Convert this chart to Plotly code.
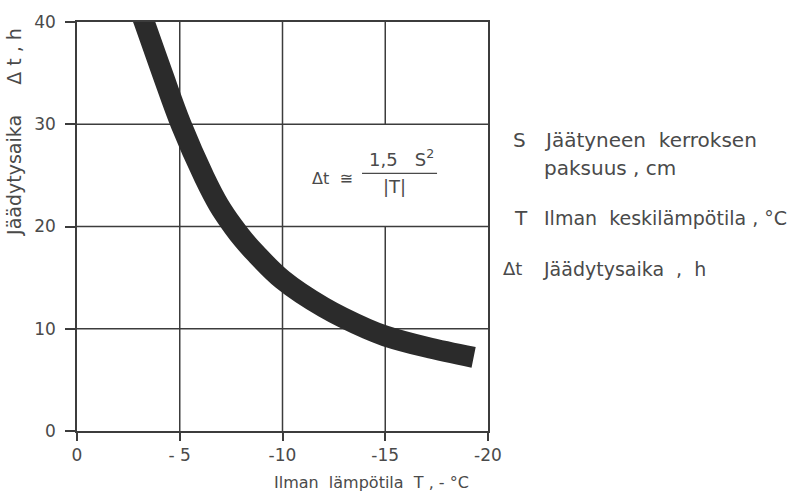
import plotly.graph_objects as go

# Curve: freezing time (h) vs air temperature (°C)
temps = [-3.0, -3.27, -4.15, -5.06, -6.2, -6.9, -7.6, -8.1, -8.7, -10.0, -12.0, -14.1, -15.0, -17.0, -19.3]
times = [41.5, 40.0, 35.0, 30.0, 24.8, 22.1, 20.0, 18.7, 17.35, 14.8, 12.1, 10.0, 9.3, 8.2, 7.2]

x_ticks = [0, -5, -10, -15, -20]
x_ticktext = ["0", "- 5", "-10", "-15", "-20"]
y_ticks = [0, 10, 20, 30, 40]
y_ticktext = ["0", "10", "20", "30", "40"]

GRID = "#3c3c3c"
TXT = "#4a4a4a"
FONT = "DejaVu Sans"

fig = go.Figure()
fig.add_trace(go.Scatter(
    x=temps, y=times, mode="lines",
    line=dict(color="#2b2b2b", width=21, shape="spline", smoothing=1.0),
    hoverinfo="skip", showlegend=False,
))

shapes = []
for xv in x_ticks[1:-1]:
    segs = [(0, 20), (30, 40)] if xv == -15 else [(0, 40)]
    for y0, y1 in segs:
        shapes.append(dict(type="line", xref="x", yref="y", x0=xv, x1=xv, y0=y0, y1=y1,
                           line=dict(color=GRID, width=1.5), layer="below"))
for yv in y_ticks[1:-1]:
    shapes.append(dict(type="line", xref="x", yref="y", x0=0, x1=-20, y0=yv, y1=yv,
                       line=dict(color=GRID, width=1.5), layer="below"))
# fraction bar of the formula
shapes.append(dict(type="line", xref="x", yref="y", x0=-13.87, x1=-17.52, y0=25.2, y1=25.2,
                   line=dict(color=TXT, width=1.2)))

def ann(x, y, text, size, xref="x", yref="y", xanchor="center", yanchor="middle", **kw):
    d = dict(x=x, y=y, xref=xref, yref=yref, text=text, showarrow=False,
             xanchor=xanchor, yanchor=yanchor,
             font=dict(family=FONT, size=size, color=TXT))
    d.update(kw)
    return d

annotations = [
    ann(-12.41, 24.7, "Δt  ≅", 16),
    ann(-15.77, 25.3, "1,5   S<sup>2</sup>", 18, yanchor="bottom"),
    ann(-15.43, 25.1, "|T|", 18, yanchor="top"),
    # axis titles
    ann(-0.152, 0.73, "Jäädytysaika     Δ t , h", 19, xref="paper", yref="paper", textangle=-90),
    ann(0.958, -0.127, "Ilman  lämpötila  T , - °C", 16, xref="paper", yref="paper", xanchor="right"),
    # explanation texts
    ann(1.055, 0.712, "S", 20, xref="paper", yref="paper", xanchor="left"),
    ann(1.131, 0.712, "Jäätyneen  kerroksen", 20, xref="paper", yref="paper", xanchor="left"),
    ann(1.131, 0.643, "paksuus , cm", 20, xref="paper", yref="paper", xanchor="left"),
    ann(1.058, 0.521, "T", 20, xref="paper", yref="paper", xanchor="left"),
    ann(1.131, 0.521, "Ilman  keskilämpötila , °C", 19, xref="paper", yref="paper", xanchor="left"),
    ann(1.031, 0.397, "Δt", 18, xref="paper", yref="paper", xanchor="left"),
    ann(1.128, 0.397, "Jäädytysaika  ,  h", 19, xref="paper", yref="paper", xanchor="left"),
]

fig.update_layout(
    width=800, height=492,
    margin=dict(l=77, r=312, t=20, b=61),
    paper_bgcolor="white", plot_bgcolor="white",
    shapes=shapes, annotations=annotations,
    showlegend=False,
    xaxis=dict(range=[0, -20], tickvals=x_ticks, ticktext=x_ticktext,
               showgrid=False, zeroline=False, showline=True, mirror=True,
               linecolor=GRID, linewidth=1.5, ticks="outside", ticklen=8,
               tickcolor=GRID, tickwidth=1.5,
               tickfont=dict(family=FONT, size=17, color=TXT)),
    yaxis=dict(range=[0, 40], tickvals=y_ticks, ticktext=y_ticktext,
               showgrid=False, zeroline=False, showline=True, mirror=True,
               linecolor=GRID, linewidth=1.5, ticks="outside", ticklen=10,
               tickcolor=GRID, tickwidth=1.5, ticklabelstandoff=6,
               tickfont=dict(family=FONT, size=17, color=TXT)),
)

fig.write_html("out.html")
